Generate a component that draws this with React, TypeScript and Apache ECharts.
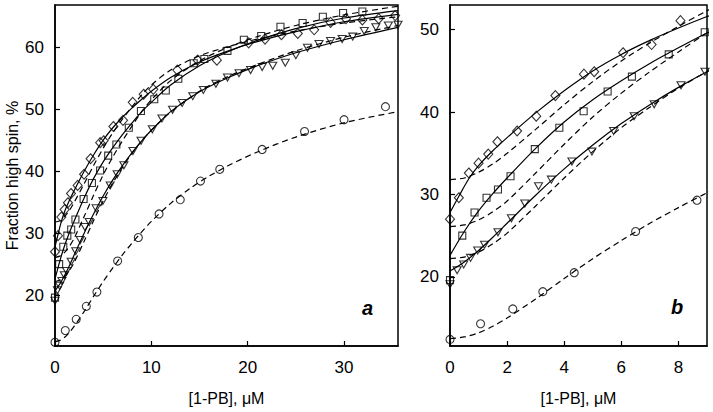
import React, { useEffect, useRef } from 'react';
import * as echarts from 'echarts';

// Measured points: [1-PB] (µM), fraction high spin (%)
const diamonds = [
  [0, 27.0], [0.31, 29.6], [0.66, 32.6], [1.0, 33.8], [1.34, 34.9], [1.66, 36.4], [2.35, 37.7],
  [3.02, 39.5], [3.69, 42.0], [4.69, 44.6], [5.05, 44.9], [6.06, 47.2], [7.06, 48.2], [8.07, 51.1],
  [9.2, 52.4], [10.2, 53.2], [12.7, 56.3], [14.8, 57.9], [16.8, 57.9], [20.1, 60.7], [21.8, 61.3],
  [23.5, 62.0], [25.2, 62.2], [26.9, 62.8], [28.6, 64.0], [30.2, 64.6], [31.9, 64.4], [33.6, 64.6],
  [35.3, 65.1],
];
const squares = [
  [0, 19.6], [0.43, 25.0], [0.86, 27.8], [1.28, 29.6], [1.68, 30.6], [2.12, 32.2], [2.97, 35.5],
  [3.83, 38.1], [4.68, 40.1], [5.52, 42.5], [6.37, 44.3], [7.66, 47.0], [8.92, 49.7], [10.3, 51.6],
  [11.5, 53.0], [12.8, 54.9], [14.4, 57.4], [15.5, 58.1], [17.9, 59.4], [19.6, 61.2], [21.4, 61.8],
  [23.4, 63.3], [25.7, 63.9], [27.8, 64.9], [29.9, 65.5], [31.9, 65.75],
];
const triangles = [
  [0, 19.1], [0.25, 20.8], [0.48, 21.5], [0.72, 22.3], [0.97, 23.2], [1.21, 23.9], [1.68, 25.4],
  [2.15, 27.1], [2.62, 28.9], [3.1, 31.0], [3.55, 31.8], [4.27, 34.0], [4.97, 35.2], [5.73, 37.7],
  [6.45, 39.5], [7.15, 40.95], [8.09, 43.25], [8.93, 44.9], [10.1, 46.75], [11.1, 48.5], [12.2, 49.9],
  [13.2, 51.0], [14.3, 52.1], [15.4, 53.1], [16.7, 54.1], [17.9, 55.1], [19.1, 55.8], [20.3, 56.3],
  [21.5, 56.8], [22.6, 57.0], [23.9, 57.5], [25.0, 58.7], [26.2, 59.9], [27.4, 60.5], [28.6, 61.0],
  [29.8, 61.3], [30.9, 61.7], [32.1, 62.6], [33.3, 63.2], [34.6, 63.5], [35.6, 63.6],
];
const circles = [
  [0, 12.4], [1.07, 14.3], [2.2, 16.1], [3.25, 18.2], [4.35, 20.5], [6.5, 25.5], [8.65, 29.3],
  [10.8, 33.1], [13.0, 35.4], [15.1, 38.4], [17.1, 40.3], [21.5, 43.5], [25.9, 46.4], [30.0, 48.3],
  [34.3, 50.4],
];

// Fitted curves
const diamondFitSolid = [
  [0, 27.8], [0.33, 29.9], [0.66, 31.9], [1, 33.5], [1.5, 35.3], [2, 36.9], [3, 39.9],
  [4, 42.6], [5, 45.0], [6, 47.0], [7, 48.7], [8, 50.2], [9, 51.6], [10, 52.9],
  [12, 55.1], [15, 57.6], [18, 59.4], [21, 60.9], [25, 62.5], [30, 64.1], [35.6, 65.3],
];
const diamondFitDashed = [
  [0, 31.8], [0.5, 32.0], [1, 32.7], [1.5, 33.7], [2, 35.0], [3, 37.9], [4, 40.9],
  [5, 43.7], [6, 46.2], [7, 48.4], [8, 50.4], [9, 52.3], [10, 53.9], [12, 56.3], [15, 58.6],
  [18, 60.1], [21, 61.3], [25, 62.6], [30, 63.9], [35.6, 64.9],
];
const squareFitSolid = [
  [0, 22.6], [0.5, 25.5], [1, 28.0], [1.5, 30.1], [2, 32.0], [3, 35.6], [4, 38.8], [5, 41.5],
  [6, 43.8], [7, 45.9], [8, 47.8], [9, 49.6], [10, 51.1], [12, 53.9], [15, 57.0], [18, 59.3],
  [21, 61.1], [25, 63.0], [30, 64.7], [35.6, 65.9],
];
const squareFitDashed = [
  [0, 26.1], [0.5, 26.3], [1, 26.9], [1.5, 27.9], [2, 29.2], [3, 32.6], [4, 36.1], [5, 39.4],
  [6, 42.3], [7, 44.9], [8, 47.3], [9, 49.6], [10, 51.5], [12, 54.6], [15, 57.8], [18, 60.0],
  [21, 61.7], [25, 63.5], [30, 65.2], [35.6, 66.6],
];
const triangleFitSolid = [
  [0, 20.7], [0.5, 21.8], [1, 23.2], [1.5, 24.8], [2, 26.5], [3, 29.9], [4, 33.1], [5, 36.0],
  [6, 38.6], [7, 40.9], [8, 43.0], [9, 44.9], [10, 46.6], [12, 49.6], [15, 52.8], [18, 55.1],
  [21, 57.0], [25, 59.1], [30, 61.2], [35.6, 63.2],
];
const triangleFitDashed = [
  [0, 22.2], [0.5, 22.4], [1, 23.0], [1.5, 24.0], [2, 25.3], [3, 28.6], [4, 32.0], [5, 35.2],
  [6, 38.1], [7, 40.6], [8, 42.9], [9, 44.9], [10, 46.6], [12, 49.5], [15, 52.9],
  [18, 55.3], [21, 57.2], [25, 59.4], [30, 61.6], [35.6, 63.5],
];
const circleFitDashed = [
  [0, 12.5], [0.5, 12.7], [1, 13.2], [1.5, 14.0], [2, 15.0], [3, 17.3], [4, 19.8], [5, 22.2], [6, 24.4],
  [7, 26.5], [8, 28.4], [9, 30.2], [10, 31.9], [12, 34.8], [14, 37.2], [16, 39.2], [18, 40.9],
  [21, 43.1], [25, 45.5], [30, 47.8], [35.6, 49.6],
];

const leftYTicks = [20, 30, 40, 50, 60];
const rightYTicks = [20, 30, 40, 50];
const xAxisName = '[1-PB], μM';
const yAxisName = 'Fraction high spin, %';
const panelLetters = ['a', 'b'];

export default function App() {
  const ref = useRef<HTMLDivElement>(null);
  useEffect(() => {
    const chart = echarts.init(ref.current!, null, { renderer: 'svg' });
    const font = "'Liberation Sans', Arial, sans-serif";
    const panels = [
      { left: 55, width: 343, xMax: 35.6, xInt: 10, yMin: 11.8, yMax: 66.8, yTicks: leftYTicks, yName: yAxisName },
      { left: 450, width: 257, xMax: 9, xInt: 2, yMin: 11.6, yMax: 53, yTicks: rightYTicks, yName: '' },
    ];
    const axisLine = { show: true, lineStyle: { color: '#000', width: 1.5 } };
    const grids = panels.map((p) => ({
      left: p.left, top: 5, width: p.width, height: 341,
      show: true, borderColor: '#000', borderWidth: 1.5, backgroundColor: 'transparent',
    }));
    const xAxes = panels.map((p, i) => ({
      type: 'value', gridIndex: i, min: 0, max: p.xMax, interval: p.xInt,
      axisLine, splitLine: { show: false },
      axisTick: { show: true, inside: true, length: 5, lineStyle: { color: '#000', width: 1.2 } },
      axisLabel: { color: '#000', fontSize: 17, fontFamily: font, margin: 13, showMaxLabel: false },
      name: xAxisName, nameLocation: 'middle', nameGap: 44,
      nameTextStyle: { color: '#000', fontSize: 16, fontFamily: font },
    }));
    const yAxes = panels.map((p, i) => ({
      type: 'value', gridIndex: i, min: p.yMin, max: p.yMax,
      axisLine, splitLine: { show: false },
      axisTick: { show: true, inside: true, length: 5, customValues: p.yTicks, lineStyle: { color: '#000', width: 1.2 } },
      axisLabel: { color: '#000', fontSize: 17, fontFamily: font, margin: 11, customValues: p.yTicks },
      name: p.yName, nameLocation: 'middle', nameGap: 35,
      nameTextStyle: { color: '#000', fontSize: 16, fontFamily: font },
    }));
    const hollow = { color: 'rgba(0,0,0,0)', borderColor: '#000', borderWidth: 1.1 };
    const series: any[] = [];
    panels.forEach((_, i) => {
      const fits: [number[][], any][] = [
        [diamondFitSolid, 'solid'], [diamondFitDashed, [6, 4]],
        [squareFitSolid, 'solid'], [squareFitDashed, [6, 4]],
        [triangleFitSolid, 'solid'], [triangleFitDashed, [6, 4]],
        [circleFitDashed, [6, 4]],
      ];
      fits.forEach(([d, t]) => series.push({
        type: 'line', xAxisIndex: i, yAxisIndex: i, data: d, showSymbol: false, symbol: 'none',
        smooth: 0.3, clip: true, silent: true, z: 2,
        lineStyle: { color: '#000', width: 1.2, type: t },
      }));
      const marks: [number[][], string, any, number][] = [
        [diamonds, 'diamond', [9, 10], 0],
        [squares, 'rect', 7, 0],
        [triangles, 'triangle', [8, 7], 180],
        [circles, 'circle', 8, 0],
      ];
      marks.forEach(([d, s, size, rot]) => series.push({
        type: 'scatter', xAxisIndex: i, yAxisIndex: i, data: d, symbol: s, symbolSize: size,
        symbolRotate: rot, clip: true, silent: true, z: 3, itemStyle: hollow,
      }));
    });
    chart.setOption({
      animation: false,
      grid: grids,
      xAxis: xAxes,
      yAxis: yAxes,
      series,
      graphic: [
        { type: 'text', x: 367.5, y: 308, style: { text: panelLetters[0], font: "italic bold 20px 'Liberation Sans', Arial, sans-serif", fill: '#000', align: 'center', verticalAlign: 'middle' } },
        { type: 'text', x: 677, y: 307, style: { text: panelLetters[1], font: "italic bold 20px 'Liberation Sans', Arial, sans-serif", fill: '#000', align: 'center', verticalAlign: 'middle' } },
      ],
    });
    return () => chart.dispose();
  }, []);
  return <div ref={ref} style={{ position: 'absolute', left: 0, top: 0, width: 713, height: 412 }} />;
}
